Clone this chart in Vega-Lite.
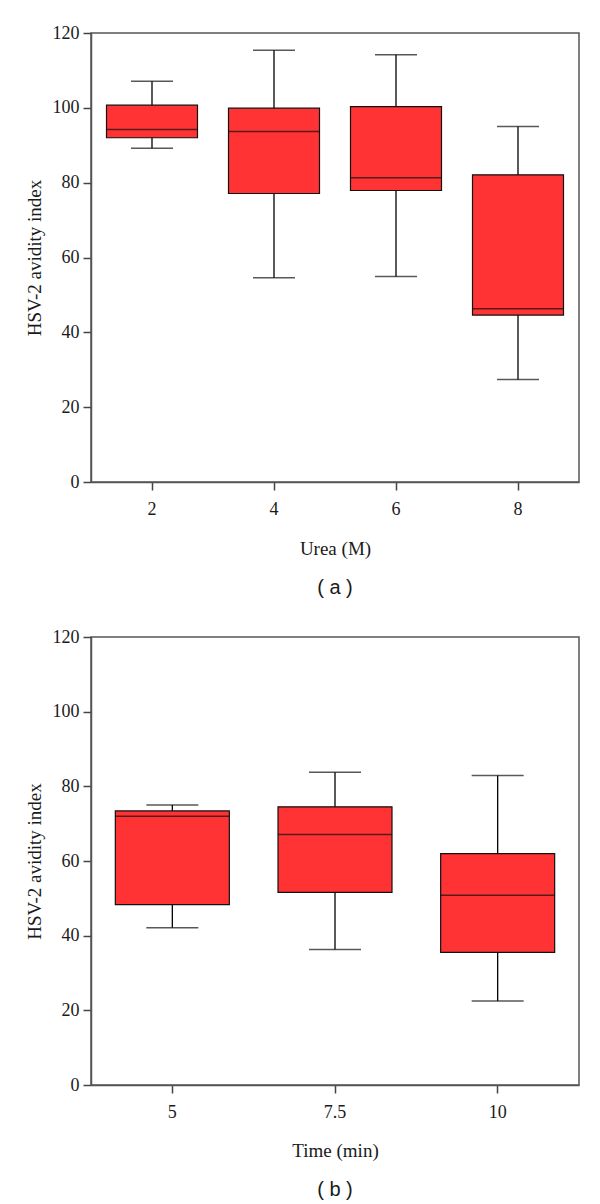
{
  "$schema": "https://vega.github.io/schema/vega-lite/v6.json",
  "background": "white",
  "padding": {"top": 23, "left": 24, "right": 15, "bottom": 5},
  "spacing": 28,
  "config": {
    "view": {"stroke": "#555555", "strokeWidth": 1.5},
    "axis": {
      "labelFont": "Liberation Serif", "labelFontSize": 18, "labelColor": "#1a1a1a",
      "titleFont": "Liberation Serif", "titleFontSize": 19, "titleFontWeight": "normal", "titleColor": "#1a1a1a",
      "domainColor": "#555555", "domainWidth": 1.5, "tickColor": "#444444", "tickWidth": 1.5, "tickSize": 8, "grid": false
    },
    "title": {"font": "Liberation Sans", "fontSize": 20, "fontWeight": "normal", "color": "#1a1a1a"}
  },
  "vconcat": [
    {
      "width": 488, "height": 449,
      "title": {"text": "( a )", "orient": "bottom", "offset": 20},
      "data": {"values": [
        {"urea": "2", "lower": 89.2, "q1": 92.0, "median": 94.2, "q3": 100.7, "upper": 107.1},
        {"urea": "4", "lower": 54.6, "q1": 77.1, "median": 93.7, "q3": 99.9, "upper": 115.4},
        {"urea": "6", "lower": 54.9, "q1": 77.9, "median": 81.3, "q3": 100.3, "upper": 114.2},
        {"urea": "8", "lower": 27.4, "q1": 44.6, "median": 46.3, "q3": 82.1, "upper": 95.0}
      ]},
      "encoding": {
        "x": {"field": "urea", "type": "ordinal", "sort": null, "title": "Urea (M)",
              "scale": {"paddingInner": 0, "paddingOuter": 0},
              "axis": {"labelAngle": 0, "labelPadding": 10, "titlePadding": 21}}
      },
      "layer": [
        {"mark": {"type": "rule", "color": "black", "strokeWidth": 1.3},
         "encoding": {"y": {"field": "lower", "type": "quantitative", "title": "HSV-2 avidity index",
                            "scale": {"domain": [0, 120]}, "axis": {"values": [0, 20, 40, 60, 80, 100, 120], "labelPadding": 4, "titlePadding": 8}},
                      "y2": {"field": "upper"}}},
        {"mark": {"type": "bar", "size": 91, "fill": "#ff3333", "stroke": "#111111", "strokeWidth": 1.2},
         "encoding": {"y": {"field": "q1", "type": "quantitative"}, "y2": {"field": "q3"}}},
        {"mark": {"type": "tick", "size": 91, "thickness": 1.5, "color": "#111111"},
         "encoding": {"y": {"field": "median", "type": "quantitative"}}},
        {"mark": {"type": "tick", "size": 42, "thickness": 1.5, "color": "#111111"},
         "encoding": {"y": {"field": "upper", "type": "quantitative"}}},
        {"mark": {"type": "tick", "size": 42, "thickness": 1.5, "color": "#111111"},
         "encoding": {"y": {"field": "lower", "type": "quantitative"}}}
      ]
    },
    {
      "width": 488, "height": 448,
      "title": {"text": "( b )", "orient": "bottom", "offset": 20},
      "data": {"values": [
        {"time": "5", "lower": 42.1, "q1": 48.3, "median": 72.0, "q3": 73.4, "upper": 75.0},
        {"time": "7.5", "lower": 36.3, "q1": 51.6, "median": 67.1, "q3": 74.5, "upper": 83.8},
        {"time": "10", "lower": 22.5, "q1": 35.5, "median": 50.8, "q3": 62.0, "upper": 82.9}
      ]},
      "encoding": {
        "x": {"field": "time", "type": "ordinal", "sort": null, "title": "Time (min)",
              "scale": {"paddingInner": 0, "paddingOuter": 0},
              "axis": {"labelAngle": 0, "labelPadding": 10, "titlePadding": 20}}
      },
      "layer": [
        {"mark": {"type": "rule", "color": "black", "strokeWidth": 1.3},
         "encoding": {"y": {"field": "lower", "type": "quantitative", "title": "HSV-2 avidity index",
                            "scale": {"domain": [0, 120]}, "axis": {"values": [0, 20, 40, 60, 80, 100, 120], "labelPadding": 4, "titlePadding": 8}},
                      "y2": {"field": "upper"}}},
        {"mark": {"type": "bar", "size": 114, "fill": "#ff3333", "stroke": "#111111", "strokeWidth": 1.2},
         "encoding": {"y": {"field": "q1", "type": "quantitative"}, "y2": {"field": "q3"}}},
        {"mark": {"type": "tick", "size": 114, "thickness": 1.5, "color": "#111111"},
         "encoding": {"y": {"field": "median", "type": "quantitative"}}},
        {"mark": {"type": "tick", "size": 52, "thickness": 1.5, "color": "#111111"},
         "encoding": {"y": {"field": "upper", "type": "quantitative"}}},
        {"mark": {"type": "tick", "size": 52, "thickness": 1.5, "color": "#111111"},
         "encoding": {"y": {"field": "lower", "type": "quantitative"}}}
      ]
    }
  ]
}
